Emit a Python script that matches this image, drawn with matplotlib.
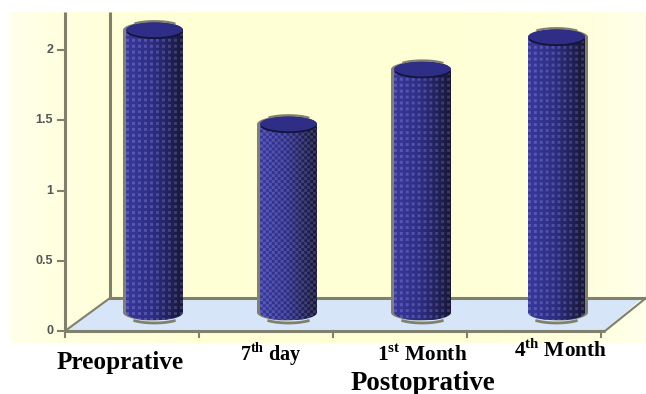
import matplotlib
matplotlib.use("Agg")
import matplotlib.pyplot as plt
import numpy as np
from matplotlib.patches import Polygon

categories = ["Preoprative", "7$^{\\mathbf{th}}$ day", "1$^{\\mathbf{st}}$ Month", "4$^{\\mathbf{th}}$ Month"]
values = [2.01, 1.34, 1.73, 1.96]
y_ticks = [0, 0.5, 1, 1.5, 2]
y_labels = ["0", "0.5", "1", "1.5", "2"]
group_label = "Postoprative"

plt.rcParams["font.family"] = ["Liberation Serif", "DejaVu Serif"]
plt.rcParams["mathtext.fontset"] = "custom"
plt.rcParams["mathtext.bf"] = "Liberation Serif:bold"
plt.rcParams["mathtext.rm"] = "Liberation Serif:bold"

W, H = 646, 394
X0, Y0 = 65, 331      # pixel of the chart origin
PX_CAT, PX_VAL = 134.0, 140.5
DX, DY = 45 / PX_CAT, 33 / PX_VAL   # 3d depth in data units
RX, RY = 28.5 / PX_CAT, 8 / PX_VAL  # cylinder radius
GREY = "#80806c"

fig = plt.figure(figsize=(W / 100, H / 100), dpi=100)
ax = fig.add_axes([0, 0, 1, 1])
xlim = (-X0 / PX_CAT, (W - X0) / PX_CAT)
ylim = ((Y0 - H) / PX_VAL, Y0 / PX_VAL)
ax.axis("off")


def px(x, y):
    return (x - X0) / PX_CAT, (Y0 - y) / PX_VAL


# background panel, pale at both ends
edge = np.array([1.0, 1.0, 0.92])
mid = np.array([1.0, 1.0, 0.84])
t = np.abs(np.linspace(-1, 1, 300))[None, :, None] ** 4
bg = edge * t + mid * (1 - t)
x1, y1 = px(10, 343)
x2, y2 = px(646, 12)
ax.imshow(bg, extent=(x1, x2, y1, y2), aspect="auto", zorder=0)

# floor
n = len(categories)
floor = [(0, 0), (DX, DY), (n + DX - 0.03, DY), (n + 0.03, 0)]
ax.add_patch(Polygon(floor, closed=True, fc="#d6e6f8", ec="none", zorder=1))

# walls and axes
ax.plot([0, 0], [0, y2], color=GREY, lw=2.2, zorder=2, solid_capstyle="butt")
ax.plot([DX, DX], [DY, y2], color=GREY, lw=2.2, zorder=2, solid_capstyle="butt")
ax.plot([DX, n + DX], [DY, DY], color=GREY, lw=2.2, zorder=2)
ax.plot([0, DX], [0, DY], color=GREY, lw=1.5, zorder=2)
ax.plot([n + 0.03, n + DX], [0, DY], color=GREY, lw=1.5, zorder=2)
ax.plot([0, n + 0.03], [0, 0], color=GREY, lw=2.2, zorder=2, solid_capstyle="butt")
ax.plot([n + DX + 0.005] * 2, [DY, y2], color=GREY, lw=1.5, zorder=2)

for v, lab in zip(y_ticks, y_labels):
    ax.plot([-7 / PX_CAT, 0], [v, v], color=GREY, lw=1.5, zorder=2)
    ax.text(-12 / PX_CAT, v, lab, ha="right", va="center", fontsize=9,
            family=["Liberation Sans"], fontweight="bold", color="#555555", zorder=3)
for i in range(n + 1):
    ax.plot([i, i], [0, -6 / PX_VAL], color=GREY, lw=1.5, zorder=2)


def cylinder_image(w, h, checker):
    u = np.linspace(0, 1, w)
    left = np.array([0.22, 0.22, 0.60])
    centre = np.array([0.18, 0.18, 0.52])
    right = np.array([0.09, 0.09, 0.22])
    col = np.where(u[:, None] < 0.45,
                   left + (centre - left) * (u[:, None] / 0.45),
                   centre + (right - centre) * ((u[:, None] - 0.45) / 0.55))
    img = np.repeat(col[None, :, :], h, axis=0)
    yy, xx = np.mgrid[0:h, 0:w]
    if checker:
        mask = ((xx // 3 + yy // 3) % 2) == 0
    else:
        mask = (xx % 6 < 3) & (yy % 6 < 3)
    img[mask] = np.clip(img[mask] + 0.13, 0, 1)
    return img


# cylinders
for i, v in enumerate(values):
    cx = i + 0.5 + DX / 2
    base = DY / 2 + 2 / PX_VAL
    top = base + v
    th = np.linspace(np.pi, 2 * np.pi, 40)
    low = np.column_stack([cx + RX * np.cos(th), base + RY * np.sin(th)])
    th2 = np.linspace(0, np.pi, 40)
    upp = np.column_stack([cx + RX * np.cos(th2), top + RY * np.sin(th2)])
    outline = np.vstack([low, upp])

    # grey offset rim on one side only
    shift = 3 / PX_CAT if i == 3 else -3 / PX_CAT
    ax.add_patch(Polygon(outline + [shift, 0], closed=True, fc=GREY, ec="none", zorder=3))
    shadow = low[10:30] + [0, -2.5 / PX_VAL]
    ax.plot(shadow[:, 0], shadow[:, 1], color=GREY, lw=2, zorder=3)

    body = Polygon(outline, closed=True, fc="none", ec="none", zorder=4)
    ax.add_patch(body)
    im = ax.imshow(cylinder_image(58, int(v * PX_VAL) + 20, i == 1),
                   extent=(cx - RX, cx + RX, base - RY, top + RY),
                   aspect="auto", interpolation="bilinear", zorder=4)
    im.set_clip_path(body)

    # top cap
    th3 = np.linspace(0, 2 * np.pi, 80)
    cap = np.column_stack([cx + RX * np.cos(th3), top + RY * np.sin(th3)])
    ax.add_patch(Polygon(cap, closed=True, fc="#2e2e86", ec="none", zorder=5))
    ax.plot(cap[44:76, 0], cap[44:76, 1], color="#14143c", lw=1.3, zorder=6)
    ax.plot(cap[10:30, 0], cap[10:30, 1] + 1 / PX_VAL, color=GREY, lw=1.5, zorder=6)

# labels, placed as in the source picture
label_pos = [(120, 362, 18.2), (271, 354, 14.5), (422, 355, 15.3), (561, 351, 15.3)]
for lab, (lx, ly, fs) in zip(categories, label_pos):
    tx, ty = px(lx, ly)
    ax.text(tx, ty, lab, ha="center", va="center", fontsize=fs, fontweight="bold", color="black", zorder=7)
tx, ty = px(423, 383)
ax.text(tx, ty, group_label, ha="center", va="center", fontsize=19.4, fontweight="bold", color="black", zorder=7)

ax.set_xlim(xlim)
ax.set_ylim(ylim)
fig.savefig("out.png", dpi=100)
